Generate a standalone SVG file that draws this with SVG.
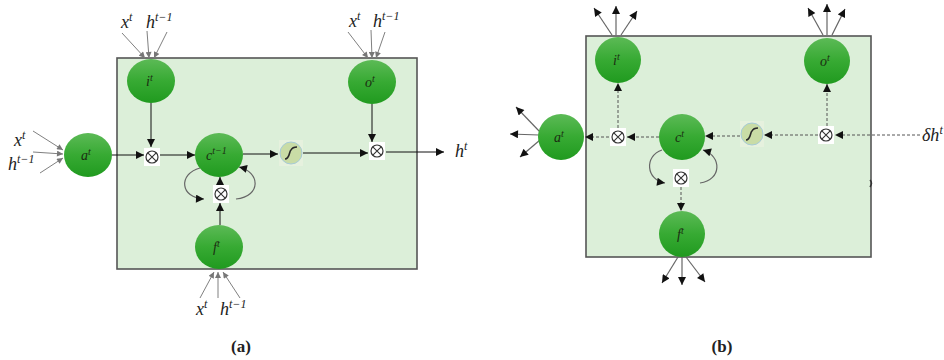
<svg xmlns="http://www.w3.org/2000/svg" width="944" height="360" viewBox="0 0 944 360">
<style>
.box{fill:#dcefd9;stroke:#555;stroke-width:1.6}
.node{fill:url(#g)}
.m{font-family:"Liberation Serif","DejaVu Serif",serif;font-style:italic;fill:#222;font-size:18px}
.n{font-family:"Liberation Serif","DejaVu Serif",serif;font-style:italic;fill:#1b2e12;font-size:14px}
.cap{font-family:"Liberation Serif","DejaVu Serif",serif;font-weight:bold;fill:#222;font-size:17px}
.sol{stroke:#111;stroke-width:1;fill:none}
.dash{stroke:#555;stroke-width:1;fill:none;stroke-dasharray:3 2}
.inp{stroke:#808080;stroke-width:1;fill:none}
.out{stroke:#666;stroke-width:1.2;fill:none}
.arc{stroke:#666;stroke-width:1.2;fill:none}
.ot rect{fill:#fff}
.ot circle{fill:none;stroke:#333;stroke-width:1.2}
.ot path{stroke:#333;stroke-width:1.1}
.sg rect{fill:#e6f1de}
.sg circle{fill:#c9dca6;stroke:#a6cbd8;stroke-width:1}
.sg path{fill:none;stroke:#2a2a2a;stroke-width:1.6}
</style>
<defs>
<linearGradient id="g" x1="0" y1="0" x2="0" y2="1">
<stop offset="0" stop-color="#5cba56"/>
<stop offset="0.5" stop-color="#37aa33"/>
<stop offset="1" stop-color="#209a1f"/>
</linearGradient>
<marker id="ab" viewBox="0 0 10 10" refX="10" refY="5" markerWidth="9" markerHeight="8" markerUnits="userSpaceOnUse" orient="auto"><path d="M0,0 L10,5 L0,10 z" fill="#111"/></marker>
<marker id="ag" viewBox="0 0 10 10" refX="10" refY="5" markerWidth="7" markerHeight="6" markerUnits="userSpaceOnUse" orient="auto"><path d="M0,0 L10,5 L0,10 z" fill="#777"/></marker>
<marker id="ad" viewBox="0 0 10 10" refX="10" refY="5" markerWidth="9" markerHeight="8" markerUnits="userSpaceOnUse" orient="auto"><path d="M0,0 L10,5 L0,10 z" fill="#111"/></marker>
<g id="otimes" class="ot"><rect x="-8" y="-9" width="16" height="18"/><circle r="6"/><path d="M-4.2,-4.2 L4.2,4.2 M-4.2,4.2 L4.2,-4.2"/></g>
<g id="sigm" class="sg"><rect x="-12" y="-13" width="24" height="26"/><circle r="11"/><path d="M-6,6 C-1,6 -2,-2 0,-3 C1,-5 3,-6 6,-6"/></g>
</defs>

<!-- Panel (a) -->
<rect class="box" x="117" y="58" width="300" height="211"/>
<!-- Panel (b) -->
<rect class="box" x="586" y="36" width="285" height="221"/>
<path d="M870,180 q3,3 0,7" stroke="#333" stroke-width="1.5" fill="none"/>

<g id="connectors">
<!-- (a) inputs -->
<path class="inp" marker-end="url(#ag)" d="M122,33 L145,58"/>
<path class="inp" marker-end="url(#ag)" d="M147,31 L149,58"/>
<path class="inp" marker-end="url(#ag)" d="M167,32 L154,58"/>
<path class="inp" marker-end="url(#ag)" d="M348,32 L368,58"/>
<path class="inp" marker-end="url(#ag)" d="M371,30 L372,58"/>
<path class="inp" marker-end="url(#ag)" d="M385,32 L376,58"/>
<path class="inp" marker-end="url(#ag)" d="M200,298 L214,272"/>
<path class="inp" marker-end="url(#ag)" d="M218,298 L218,272"/>
<path class="inp" marker-end="url(#ag)" d="M240,298 L223,272"/>
<path class="inp" marker-end="url(#ag)" d="M33,131 L63,150"/>
<path class="inp" marker-end="url(#ag)" d="M33,152 L63,154"/>
<path class="inp" marker-end="url(#ag)" d="M40,173 L63,158"/>
<!-- (a) internal -->
<path class="sol" marker-end="url(#ab)" d="M112,155 L144,155"/>
<path class="sol" marker-end="url(#ab)" d="M151,103 L151,147"/>
<path class="sol" marker-end="url(#ab)" d="M160,155 L195,155"/>
<path class="sol" marker-end="url(#ab)" d="M243,154 L278,154"/>
<path class="sol" marker-end="url(#ab)" d="M303,153 L368,153"/>
<path class="sol" marker-end="url(#ab)" d="M372,104 L372,142"/>
<path class="sol" marker-end="url(#ab)" d="M386,152 L444,152"/>
<path class="sol" marker-end="url(#ab)" d="M220,225 L220,203"/>
<path class="sol" marker-end="url(#ab)" d="M220,186 L220,177"/>
<path class="arc" marker-end="url(#ab)" d="M200,168 C178,174 180,198 204,199"/>
<path class="arc" marker-end="url(#ab)" d="M236,199 C262,196 260,172 239,167"/>
<!-- (b) internal dashed -->
<path class="dash" marker-end="url(#ad)" d="M920,135 L835,135"/>
<path class="dash" marker-end="url(#ad)" d="M827,126 L827,84"/>
<path class="dash" marker-end="url(#ad)" d="M818,135 L764,135"/>
<path class="dash" marker-end="url(#ad)" d="M740,136 L705,136"/>
<path class="dash" marker-end="url(#ad)" d="M659,137 L627,137"/>
<path class="dash" marker-end="url(#ad)" d="M609,137 L585,137"/>
<path class="dash" marker-end="url(#ad)" d="M618,128 L618,83"/>
<path class="dash" marker-end="url(#ad)" d="M681,187 L681,211"/>
<path class="arc" marker-end="url(#ab)" d="M662,150 C644,156 646,180 665,183"/>
<path class="arc" marker-end="url(#ab)" d="M700,183 C722,180 722,156 703,150"/>
<!-- (b) outputs -->
<path class="out" marker-end="url(#ab)" d="M612,35 L594,8"/>
<path class="out" marker-end="url(#ab)" d="M616,35 L616,6"/>
<path class="out" marker-end="url(#ab)" d="M621,35 L637,11"/>
<path class="out" marker-end="url(#ab)" d="M823,35 L808,8"/>
<path class="out" marker-end="url(#ab)" d="M827,35 L827,4"/>
<path class="out" marker-end="url(#ab)" d="M832,35 L845,9"/>
<path class="out" marker-end="url(#ab)" d="M540,132 L516,107"/>
<path class="out" marker-end="url(#ab)" d="M539,135 L510,134"/>
<path class="out" marker-end="url(#ab)" d="M540,140 L520,157"/>
<path class="out" marker-end="url(#ab)" d="M678,257 L662,283"/>
<path class="out" marker-end="url(#ab)" d="M682,257 L682,285"/>
<path class="out" marker-end="url(#ab)" d="M686,257 L705,282"/>
</g>

<!-- Panel (a) nodes -->
<g id="a_i"><ellipse class="node" cx="151" cy="81" rx="24" ry="22"/><text class="n" x="146" y="86">i<tspan dy="-5" font-size="10">t</tspan></text></g>
<g id="a_o"><ellipse class="node" cx="372" cy="82" rx="24" ry="22"/><text class="n" x="365" y="87">o<tspan dy="-5" font-size="10">t</tspan></text></g>
<g id="a_a"><ellipse class="node" cx="88" cy="155" rx="24" ry="22"/><text class="n" x="81" y="160">a<tspan dy="-5" font-size="10">t</tspan></text></g>
<g id="a_c"><ellipse class="node" cx="219" cy="155" rx="24" ry="22"/><text class="n" x="206" y="160">c<tspan dy="-6" font-size="10">t−1</tspan></text></g>
<g id="a_f"><ellipse class="node" cx="219" cy="247" rx="24" ry="22"/><text class="n" x="213" y="252">f<tspan dy="-5" font-size="10">t</tspan></text></g>
<g id="a_x1"><use href="#otimes" x="152" y="157"/></g>
<g id="a_x2"><use href="#otimes" x="377" y="151"/></g>
<g id="a_x3"><use href="#otimes" x="221" y="194"/></g>
<g id="a_s"><use href="#sigm" x="291" y="153"/></g>

<!-- Panel (b) nodes -->
<g id="b_i"><circle class="node" cx="618" cy="60" r="23"/><text class="n" x="613" y="65">i<tspan dy="-5" font-size="10">t</tspan></text></g>
<g id="b_o"><circle class="node" cx="827" cy="61" r="23"/><text class="n" x="820" y="66">o<tspan dy="-5" font-size="10">t</tspan></text></g>
<g id="b_a"><circle class="node" cx="561" cy="137" r="23"/><text class="n" x="554" y="142">a<tspan dy="-5" font-size="10">t</tspan></text></g>
<g id="b_c"><circle class="node" cx="682" cy="137" r="23"/><text class="n" x="675" y="142">c<tspan dy="-5" font-size="10">t</tspan></text></g>
<g id="b_f"><circle class="node" cx="682" cy="234" r="23"/><text class="n" x="677" y="239">f<tspan dy="-5" font-size="10">t</tspan></text></g>
<g id="b_x1"><use href="#otimes" x="618" y="137"/></g>
<g id="b_x2"><use href="#otimes" x="826" y="135"/></g>
<g id="b_x3"><use href="#otimes" x="681" y="178"/></g>
<g id="b_s"><use href="#sigm" x="752" y="134"/></g>

<!-- labels -->
<text class="m" x="121" y="28">x<tspan dy="-7" font-size="12">t</tspan></text>
<text class="m" x="146" y="28">h<tspan dy="-7" font-size="12">t−1</tspan></text>
<text class="m" x="349" y="27">x<tspan dy="-7" font-size="12">t</tspan></text>
<text class="m" x="373" y="27">h<tspan dy="-7" font-size="12">t−1</tspan></text>
<text class="m" x="196" y="315">x<tspan dy="-7" font-size="12">t</tspan></text>
<text class="m" x="220" y="315">h<tspan dy="-7" font-size="12">t−1</tspan></text>
<text class="m" x="14" y="146">x<tspan dy="-7" font-size="12">t</tspan></text>
<text class="m" x="8" y="170">h<tspan dy="-7" font-size="12">t−1</tspan></text>
<text class="m" x="455" y="157">h<tspan dy="-7" font-size="12">t</tspan></text>
<text class="m" x="922" y="141">δh<tspan dy="-7" font-size="12">t</tspan></text>
<text class="cap" x="241" y="352" text-anchor="middle">(<tspan>a</tspan>)</text>
<text class="cap" x="722" y="352" text-anchor="middle">(<tspan>b</tspan>)</text>
</svg>
